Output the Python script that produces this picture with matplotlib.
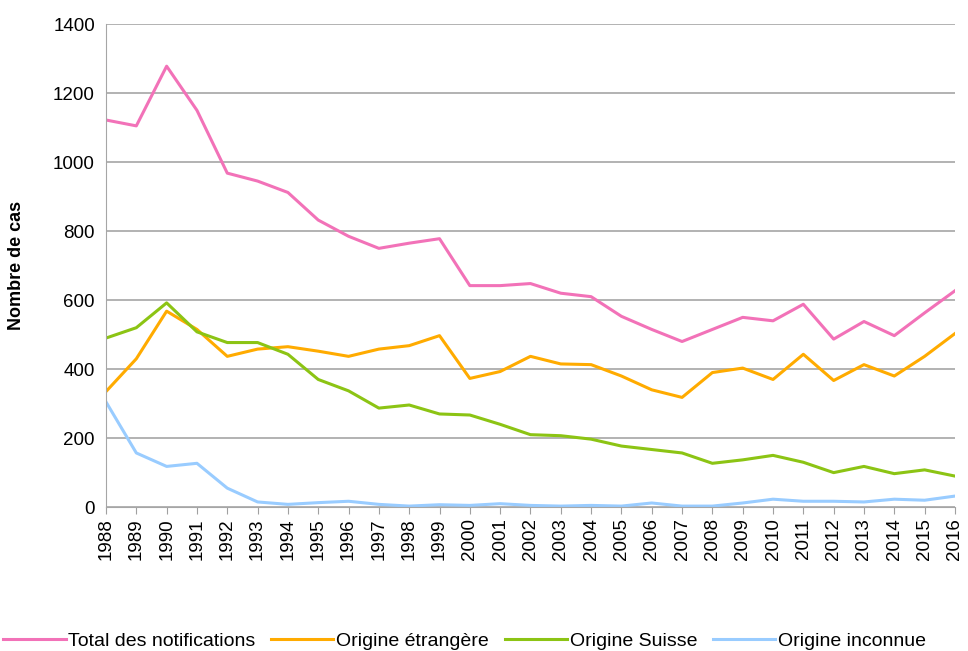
import matplotlib
matplotlib.use("Agg")
import matplotlib.pyplot as plt

plt.rcParams['font.family'] = ['Liberation Sans', 'DejaVu Sans']

years = list(range(1988, 2017))
total = [1122, 1105, 1278, 1150, 968, 945, 912, 832, 785, 750, 765, 778, 642, 642, 648,
         620, 610, 553, 515, 480, 515, 550, 540, 588, 487, 538, 497, 563, 627]
etrangere = [335, 430, 568, 515, 437, 458, 465, 452, 437, 458, 468, 497, 373, 393, 437,
             415, 413, 380, 340, 318, 390, 403, 370, 443, 367, 413, 380, 437, 503]
suisse = [490, 520, 592, 508, 477, 477, 443, 370, 337, 287, 296, 270, 267, 240, 210,
          207, 197, 177, 167, 157, 127, 137, 150, 130, 100, 118, 97, 108, 90]
inconnue = [305, 157, 118, 127, 55, 15, 8, 13, 17, 8, 3, 7, 5, 10, 5,
            3, 5, 3, 12, 3, 3, 12, 23, 17, 17, 15, 23, 20, 32]

fig = plt.figure(figsize=(9.68, 6.51), dpi=100)
ax = fig.add_axes([0.1095, 0.221, 0.877, 0.742])

ax.plot(years, total, color='#f272b8', lw=2.2, label='Total des notifications')
ax.plot(years, etrangere, color='#ffab00', lw=2.2, label='Origine étrangère')
ax.plot(years, suisse, color='#8cc414', lw=2.2, label='Origine Suisse')
ax.plot(years, inconnue, color='#99ccff', lw=2.2, label='Origine inconnue')

ax.set_xlim(1988, 2016)
ax.set_ylim(0, 1400)
ax.set_yticks(range(0, 1401, 200))
ax.set_xticks(years)
ax.set_xticklabels([str(y) for y in years], rotation=90, fontsize=13.5)
ax.tick_params(axis='y', labelsize=13.5, length=0, pad=8)
ax.tick_params(axis='x', length=5, color='#a0a0a0', pad=3)
ax.grid(axis='y', color='#a6a6a6', lw=1.2)
ax.set_axisbelow(True)
for s in ['top', 'right']:
    ax.spines[s].set_visible(False)
ax.spines['left'].set_color('#a6a6a6')
ax.spines['bottom'].set_color('#a6a6a6')
ax.set_ylabel('Nombre de cas', fontsize=13, fontweight='bold', labelpad=20)

fig.legend(loc='lower center', bbox_to_anchor=(0.48, -0.025), ncol=4, frameon=False,
           fontsize=14, handlelength=3.2, handletextpad=0.15, columnspacing=0.8)

fig.savefig('out.png', dpi=100)
